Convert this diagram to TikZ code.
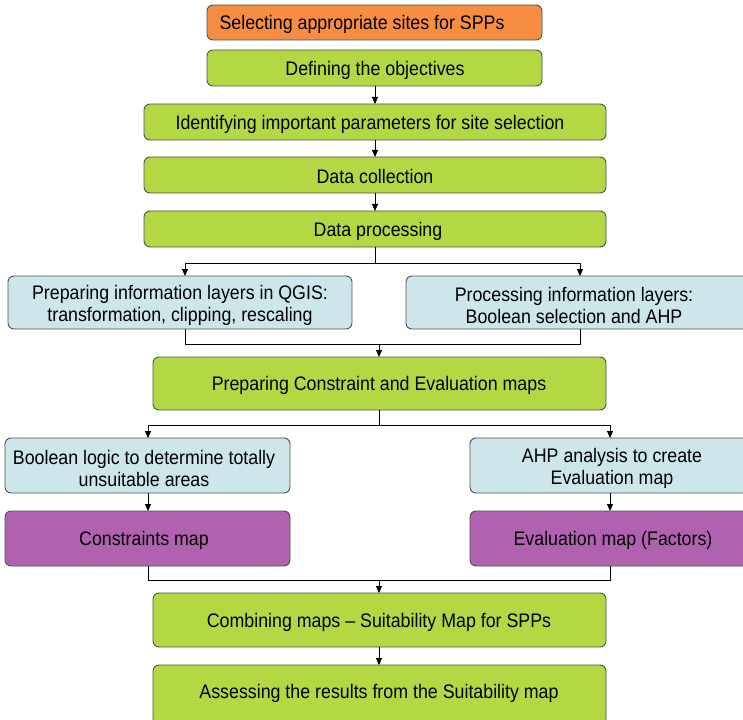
\documentclass[tikz,border=0pt]{standalone}
\usepackage{fontspec}
\setmainfont{Liberation Sans}
\usetikzlibrary{arrows.meta}
\definecolor{orangebox}{RGB}{245,141,66}
\definecolor{greenbox}{RGB}{179,216,67}
\definecolor{bluebox}{RGB}{205,230,234}
\definecolor{purplebox}{RGB}{176,98,176}
\definecolor{edgegray}{RGB}{80,80,80}
\tikzset{
  box/.style={draw=edgegray, line width=0.9pt, rounded corners=6pt},
  lbl/.style={font=\fontsize{17.8}{20}\selectfont, align=center, inner sep=0pt, yshift=-2pt, yscale=1.1, transform shape},
  conn/.style={draw=black, line width=0.8pt},
  arr/.style={conn, -{Triangle[length=7pt,width=6pt]}},
}
\begin{document}
\begin{tikzpicture}[x=1pt,y=-1pt]
\useasboundingbox (0,0) rectangle (743,719);
% boxes
\draw[box, fill=orangebox] (207,5) rectangle (542,40);
\node[lbl] (n1) at (362,22.5) {Selecting appropriate sites for SPPs};
\draw[box, fill=greenbox] (207,50) rectangle (542,86);
\node[lbl] (n2) at (375,68) {Defining the objectives};
\draw[box, fill=greenbox] (144,104) rectangle (606,140);
\node[lbl] (n3) at (370,122) {Identifying important parameters for site selection};
\draw[box, fill=greenbox] (144,157) rectangle (606,193);
\node[lbl] (n4) at (375,175) {Data collection};
\draw[box, fill=greenbox] (144,211) rectangle (606,247);
\node[lbl] (n5) at (378,229) {Data processing};
\draw[box, fill=bluebox] (8,276) rectangle (352,329);
\node[lbl] (n6) at (180,303) {Preparing information layers in QGIS:\\transformation, clipping, rescaling};
\draw[box, fill=bluebox] (406,276) rectangle (750,329);
\node[lbl] (n7) at (574,303) {Processing information layers:\\Boolean selection and AHP};
\draw[box, fill=greenbox] (153,357) rectangle (606,410);
\node[lbl] (n8) at (379,383.5) {Preparing Constraint and Evaluation maps};
\draw[box, fill=bluebox] (5,438) rectangle (290,493);
\node[lbl] (n9) at (144,466) {Boolean logic to determine totally\\unsuitable areas};
\draw[box, fill=bluebox] (470,438) rectangle (750,493);
\node[lbl] (n10) at (612,466) {AHP analysis to create\\Evaluation map};
\draw[box, fill=purplebox] (5,511) rectangle (290,566);
\node[lbl] (n11) at (144,538.5) {Constraints map};
\draw[box, fill=purplebox] (470,511) rectangle (750,566);
\node[lbl] (n12) at (613,538.5) {Evaluation map (Factors)};
\draw[box, fill=greenbox] (153,593) rectangle (606,647);
\node[lbl] (n13) at (379,620) {Combining maps -- Suitability Map for SPPs};
\draw[box, fill=greenbox] (153,665) rectangle (606,725);
\node[lbl] (n14) at (379,691) {Assessing the results from the Suitability map};
% coordinates
\coordinate (b2) at (375,86);  \coordinate (t3) at (375,104);
\coordinate (b3) at (375,140); \coordinate (t4) at (375,157);
\coordinate (b4) at (375,193); \coordinate (t5) at (375,211);
\coordinate (b5) at (375,247); \coordinate (s1) at (375,263);
\coordinate (s1l) at (185,263); \coordinate (s1r) at (580,263);
\coordinate (t6) at (185,276); \coordinate (t7) at (580,276);
\coordinate (b6) at (185,329); \coordinate (b7) at (580,329);
\coordinate (m1l) at (185,344); \coordinate (m1r) at (580,344);
\coordinate (m1) at (379,344); \coordinate (t8) at (379,357);
\coordinate (b8) at (379,410); \coordinate (s2) at (379,425);
\coordinate (s2l) at (148,425); \coordinate (s2r) at (610,425);
\coordinate (t9) at (148,438); \coordinate (t10) at (610,438);
\coordinate (b9) at (148,493); \coordinate (t11) at (148,511);
\coordinate (b10) at (610,493); \coordinate (t12) at (610,511);
\coordinate (b11) at (148,566); \coordinate (b12) at (610,566);
\coordinate (m2l) at (148,580); \coordinate (m2r) at (610,580);
\coordinate (m2) at (379,580); \coordinate (t13) at (379,593);
\coordinate (b13) at (379,647); \coordinate (t14) at (379,665);
% connectors
\draw[arr] (b2) -- (t3);
\draw[arr] (b3) -- (t4);
\draw[arr] (b4) -- (t5);
\draw[conn] (b5) -- (s1);
\draw[arr] (s1) -- (s1l) -- (t6);
\draw[arr] (s1) -- (s1r) -- (t7);
\draw[conn] (b6) -- (m1l) -- (m1r) -- (b7);
\draw[arr] (m1) -- (t8);
\draw[conn] (b8) -- (s2);
\draw[arr] (s2) -- (s2l) -- (t9);
\draw[arr] (s2) -- (s2r) -- (t10);
\draw[arr] (b9) -- (t11);
\draw[arr] (b10) -- (t12);
\draw[conn] (b11) -- (m2l) -- (m2r) -- (b12);
\draw[arr] (m2) -- (t13);
\draw[arr] (b13) -- (t14);
\end{tikzpicture}
\end{document}
